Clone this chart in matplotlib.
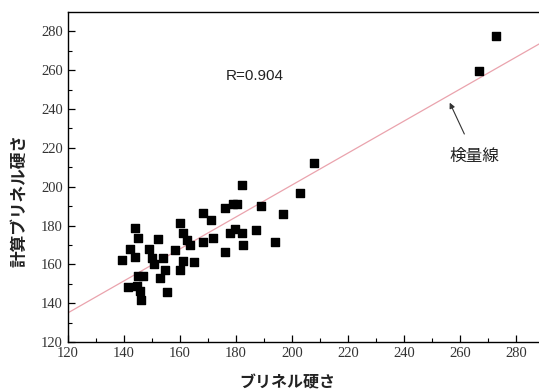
import matplotlib
matplotlib.use("Agg")
import matplotlib.pyplot as plt
import numpy as np

brinell = [272.9, 266.8, 207.9, 202.9, 196.8, 193.9, 188.9, 187.1, 182.1, 182.5,
           178.9, 180.4, 176.1, 177.9, 179.6, 182.1, 176.1, 171.1, 168.2, 171.8,
           168.2, 162.5, 163.6, 160.0, 161.1, 158.2, 161.1, 165.0, 160.0, 152.1,
           153.9, 148.9, 150.0, 150.7, 154.6, 152.9, 155.4, 143.9, 145.0, 142.1,
           143.9, 145.0, 146.8, 141.4, 144.6, 145.7, 146.1, 139.3]
calc = [277.4, 259.4, 212.4, 196.9, 186.1, 171.6, 190.2, 177.8, 201.0, 170.1,
        191.2, 191.2, 189.2, 176.3, 178.3, 176.3, 166.5, 183.0, 186.6, 173.7,
        171.6, 172.6, 170.1, 181.4, 176.3, 167.5, 161.8, 161.3, 157.2, 173.2,
        163.4, 168.0, 163.4, 160.3, 157.2, 153.0, 145.8, 178.8, 173.7, 168.0,
        163.9, 154.1, 154.1, 148.4, 148.9, 146.3, 141.7, 162.3]

# calibration line end points
line_x = [120, 288.3]
line_y = [135.0, 273.5]

fig = plt.figure(figsize=(5.39, 3.91), dpi=100)
ax = fig.add_axes([0.126, 0.1253, 0.874, 0.844])

ax.plot(line_x, line_y, color="#eaa3ad", lw=0.9, zorder=1)
ax.scatter(brinell, calc, marker="s", s=38, color="black", zorder=2)

ax.set_xlim(120, 288.3)
ax.set_ylim(120, 290)
ax.set_xticks(np.arange(120, 281, 20))
ax.set_yticks(np.arange(120, 281, 20))
ax.set_xticks(np.arange(130, 290, 20), minor=True)
ax.set_yticks(np.arange(130, 290, 20), minor=True)
ax.tick_params(which="both", direction="in", colors="black", labelcolor="#333333")
ax.tick_params(which="major", length=5, width=0.9)
ax.tick_params(which="minor", length=3, width=0.8)
for lab in ax.get_xticklabels() + ax.get_yticklabels():
    lab.set_family("Liberation Serif")
    lab.set_fontsize(10.5)
ax.spines["right"].set_visible(False)
for s in ["left", "bottom", "top"]:
    ax.spines[s].set_linewidth(1.0)

jp = ["Noto Sans CJK JP", "DejaVu Sans"]
ax.set_xlabel("ブリネル硬さ", family=jp, fontsize=11.5, fontweight="bold", color="#222222")
ax.set_ylabel("計算ブリネル硬さ", family=jp, fontsize=12, fontweight="bold", color="#222222")
ax.xaxis.set_label_coords(0.465, -0.098)
ax.yaxis.set_label_coords(-0.085, 0.43)

ax.text(186.8, 257, "R=0.904", family="Liberation Sans", fontsize=11,
        ha="center", va="center", color="#222222")
ax.annotate("検量線", xy=(256.4, 243.3), xytext=(265.4, 215.5),
            family=jp, fontsize=12, ha="center", va="center", color="#222222",
            arrowprops=dict(arrowstyle="-|>", color="#333333", lw=0.8,
                            mutation_scale=8, shrinkA=9, shrinkB=0))

fig.savefig("out.png", dpi=100)
